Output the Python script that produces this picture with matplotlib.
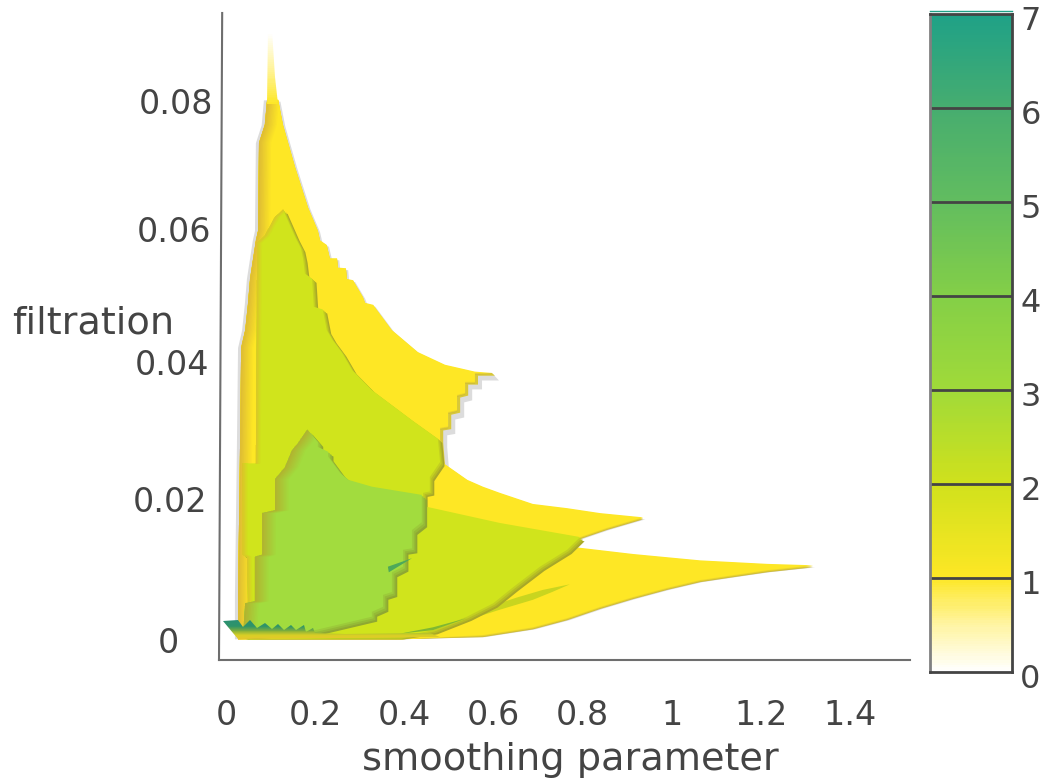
import numpy as np
import matplotlib
matplotlib.use("Agg")
import matplotlib.pyplot as plt
from matplotlib.colors import LinearSegmentedColormap, to_rgb
from matplotlib.patches import Polygon
from matplotlib.transforms import ScaledTranslation

# Outlines of the regions where the Hilbert function reaches each level,
# as (smoothing parameter, filtration) boundaries.
level1_right_s = [0.027, 0.390, 0.576, 0.688, 0.765, 0.839, 0.913, 0.989, 1.063, 1.137, 1.213, 1.316,
                  1.213, 1.063, 0.913, 0.778, 0.794, 0.854, 0.935, 0.839, 0.765, 0.688, 0.614, 0.576,
                  0.541, 0.484, 0.480, 0.480, 0.498, 0.498, 0.518, 0.518, 0.536, 0.536, 0.558, 0.558, 0.596,
                  0.558, 0.491, 0.430, 0.372, 0.330, 0.312, 0.307, 0.285, 0.271, 0.269, 0.251, 0.249, 0.233,
                  0.226, 0.211, 0.206, 0.184, 0.155, 0.128, 0.117]
level1_right_f = [0.0001, 0.0001, 0.0007, 0.0018, 0.0031, 0.0047, 0.0061, 0.0074, 0.0085, 0.0092, 0.0099, 0.0106,
                  0.0108, 0.0113, 0.0122, 0.0132, 0.0146, 0.0159, 0.0174, 0.0180, 0.0187, 0.0193, 0.0209, 0.0218,
                  0.0228, 0.0254, 0.0286, 0.0304, 0.0306, 0.0327, 0.0330, 0.0352, 0.0355, 0.0371, 0.0371, 0.0384, 0.0384,
                  0.0386, 0.0396, 0.0415, 0.0448, 0.0486, 0.0489, 0.0498, 0.0523, 0.0525, 0.0541, 0.0542, 0.0556, 0.0556,
                  0.0576, 0.0583, 0.0598, 0.0634, 0.0697, 0.0763, 0.0802]
level1_left_s = [0.092, 0.087, 0.074, 0.072, 0.067, 0.054, 0.049, 0.043, 0.034, 0.031, 0.027, 0.027]
level1_left_f = [0.0802, 0.0763, 0.0735, 0.0598, 0.0583, 0.0526, 0.0486, 0.0448, 0.0422, 0.0252, 0.0062, 0.0001]

level1_spike_s = [0.092, 0.117, 0.110, 0.103, 0.094]
level1_spike_f = [0.0795, 0.0795, 0.0837, 0.0911, 0.0911]

level2_right_s = [0.049, 0.390, 0.464, 0.540, 0.599, 0.644, 0.704, 0.765, 0.794, 0.614, 0.464, 0.442, 0.442,
                  0.457, 0.457, 0.480, 0.475, 0.417, 0.327, 0.283, 0.260, 0.238, 0.226, 0.217, 0.197, 0.193,
                  0.177, 0.173, 0.168, 0.155, 0.128]
level2_right_f = [0.0001, 0.0004, 0.0014, 0.0033, 0.0052, 0.0075, 0.0104, 0.0128, 0.0146, 0.0166, 0.0187, 0.0190, 0.0209,
                  0.0211, 0.0232, 0.0254, 0.0288, 0.0315, 0.0359, 0.0388, 0.0414, 0.0434, 0.0448, 0.0479, 0.0483, 0.0525,
                  0.0533, 0.0555, 0.0571, 0.0588, 0.0630]
level2_left_s = [0.128, 0.110, 0.087, 0.070, 0.067, 0.038, 0.038, 0.047, 0.049, 0.049]
level2_left_f = [0.0630, 0.0619, 0.0590, 0.0579, 0.0252, 0.0252, 0.0121, 0.0118, 0.0057, 0.0001]

level3_right_s = [0.038, 0.200, 0.327, 0.327, 0.352, 0.352, 0.372, 0.372, 0.397, 0.397, 0.417, 0.417, 0.439, 0.439,
                  0.327, 0.274, 0.256, 0.229, 0.229, 0.206, 0.206, 0.182]
level3_right_f = [0.0004, 0.0014, 0.0033, 0.0040, 0.0047, 0.0064, 0.0068, 0.0096, 0.0104, 0.0128, 0.0130, 0.0156, 0.0167, 0.0206,
                  0.0218, 0.0228, 0.0238, 0.0262, 0.0269, 0.0276, 0.0283, 0.0301]
level3_left_s = [0.182, 0.161, 0.148, 0.132, 0.110, 0.110, 0.081, 0.081, 0.065, 0.065, 0.043, 0.038]
level3_left_f = [0.0301, 0.0281, 0.0271, 0.0246, 0.0229, 0.0184, 0.0180, 0.0121, 0.0118, 0.0055, 0.0052, 0.0004]

# Narrow ridges of a higher level running through the lower sheets.
ridge2_s = [0.771, 0.731, 0.688, 0.614, 0.540, 0.569, 0.651, 0.710]
ridge2_f = [0.0079, 0.0068, 0.0057, 0.0043, 0.0028, 0.0043, 0.0060, 0.0071]
ridge3_s = [0.390, 0.464, 0.540, 0.464]
ridge3_f = [0.0009, 0.0018, 0.0031, 0.0014]
ridge4_s = [0.417, 0.363, 0.365]
ridge4_f = [0.0116, 0.0104, 0.0096]

# Saw-tooth of high values along the bottom edge.
teeth_s = [-0.007, 0.027, 0.038, 0.054, 0.070, 0.087, 0.103, 0.117, 0.130, 0.146, 0.157, 0.175, 0.179,
           0.195, 0.200, 0.267, 0.457, 0.480, 0.027]
teeth_f = [0.0027, 0.0028, 0.0018, 0.0028, 0.0017, 0.0024, 0.0016, 0.0023, 0.0014, 0.0021, 0.0014, 0.0021, 0.0011,
           0.0017, 0.0010, 0.0009, 0.0010, 0.0004, 0.0001]

x_ticks = [0, 0.2, 0.4, 0.6, 0.8, 1, 1.2, 1.4]
x_tick_labels = ["0", "0.2", "0.4", "0.6", "0.8", "1", "1.2", "1.4"]
y_ticks = [0, 0.02, 0.04, 0.06, 0.08]
y_tick_labels = ["0", "0.02", "0.04", "0.06", "0.08"]
cbar_ticks = [0, 1, 2, 3, 4, 5, 6, 7]

# The view is in slight perspective: filtration spacing shrinks towards the top.
y_stops = [-0.10, -0.00284, 0, 0.02, 0.04, 0.06, 0.08, 0.09375, 0.20]
y_heights = [-680, 0, 20, 161, 298, 431, 559, 647, 1330]

scale_colors = [(0.0, "#ffffff"), (0.5 / 7, "#fff4a0"), (1 / 7, "#fde725"), (2 / 7, "#d0e11c"),
                (3 / 7, "#a0da39"), (4 / 7, "#84cf47"), (5 / 7, "#62bd5f"), (6 / 7, "#47ad6f"), (1.0, "#1fa187")]
hilbert_cmap = LinearSegmentedColormap.from_list("hilbert", scale_colors)
teeth_cmap = LinearSegmentedColormap.from_list(
    "teeth", [(0.0, "#e6c62a"), (0.2, "#d8cf25"), (0.45, "#7fae3a"), (0.7, "#2f9468"), (1.0, "#2a8f72")])

LEVEL1 = "#fee725"
LEVEL2 = "#d0e41c"
LEVEL3 = "#a2dc3e"
TEXT = "#444444"
FONT = 24
TITLE_FONT = 27.5


def blend(a, b, t):
    a, b = np.array(to_rgb(a)), np.array(to_rgb(b))
    return tuple(a + (b - a) * t)


def outline(right_s, right_f, left_s, left_f, ds=0.0, df=0.0):
    s = np.concatenate([right_s, left_s]) + ds
    f = np.maximum(np.concatenate([right_f, left_f]) + df, 0.0001)
    return np.column_stack([s, f])


def draw_region(ax, right_s, right_f, left_s, left_f, color, wall, wall_width, z,
                edge_color=None, edge_shift=(0, 0)):
    # Side wall showing on the right and lower edges of the sheet.
    if edge_color is not None:
        for t in (1.0, 0.66, 0.33):
            ax.fill(*outline(right_s, right_f, left_s, left_f,
                             edge_shift[0] * t, edge_shift[1] * t).T,
                    color=blend(color, edge_color, t), lw=0, zorder=z)
    body = outline(right_s, right_f, left_s, left_f)
    ax.fill(*body.T, color=color, lw=0, zorder=z + 0.1)
    # Shaded wall along the left edge, clipped to the sheet.
    clip = Polygon(body, closed=True, transform=ax.transData, fc="none", ec="none")
    ax.add_patch(clip)
    left_s = np.asarray(left_s)
    left_f = np.asarray(left_f)
    for t in np.linspace(1, 0.1, 10):
        band = np.column_stack([np.r_[left_s, left_s[::-1] + t * wall_width],
                                np.r_[left_f, left_f[::-1]]])
        piece = ax.fill(*band.T, color=blend(color, wall, 1 - t), lw=0, zorder=z + 0.2)[0]
        piece.set_clip_path(clip)


def gradient_fill(ax, s, f, cmap, v_low, v_high, z):
    # Vertical colour ramp clipped to one outline.
    f_grid = np.linspace(min(f), max(f), 40)
    s_grid = np.array([min(s), max(s)])
    values = np.linspace(v_low, v_high, 39).reshape(-1, 1)
    mesh = ax.pcolormesh(s_grid, f_grid, values, cmap=cmap, vmin=0, vmax=1,
                         shading="flat", zorder=z, rasterized=True)
    clip = Polygon(np.column_stack([s, f]), closed=True, transform=ax.transData, fc="none", ec="none")
    ax.add_patch(clip)
    mesh.set_clip_path(clip)


fig = plt.figure(figsize=(10.53, 7.84), dpi=100, facecolor="white")
plt.rcParams["font.family"] = ["DejaVu Sans"]
W, H = 1053.0, 784.0
ax = fig.add_axes([219 / W, (H - 660) / H, 691 / W, 647 / H])
ax.set_yscale("function", functions=(lambda v: np.interp(v, y_stops, y_heights),
                                     lambda v: np.interp(v, y_heights, y_stops)))
ax.set_xlim(-0.0157, 1.5336)
ax.set_ylim(-0.00284, 0.09375)

r1s, r1f = np.array(level1_right_s), np.array(level1_right_f)
l1s, l1f = np.array(level1_left_s), np.array(level1_left_f)

# Soft grey shadow around the first sheet.
GREY = "#dcdcdc"
ax.fill(*outline(r1s, r1f, l1s, l1f, 0.005, -0.0003).T, color=GREY, lw=0, zorder=1)
ax.fill(*outline(r1s, r1f, l1s, l1f, -0.007, -0.0001).T, color=GREY, lw=0, zorder=1)
stair_s, stair_f = r1s[25:37], r1f[25:37]
ax.fill(np.r_[stair_s + 0.016, stair_s[::-1]], np.r_[stair_f - 0.0011, stair_f[::-1]],
        color=GREY, lw=0, zorder=1)
ax.fill(np.r_[stair_s + 0.007, stair_s[::-1]], np.r_[stair_f - 0.0004, stair_f[::-1]],
        color="#d8c838", lw=0, zorder=1.5)

draw_region(ax, r1s, r1f, l1s, l1f, LEVEL1, "#dcb935", 0.030, 2,
            edge_color="#cdbb38", edge_shift=(0.0, -0.0003))
gradient_fill(ax, level1_spike_s, level1_spike_f, hilbert_cmap, 1 / 7, 0.0, 2.5)
ax.fill(ridge2_s, ridge2_f, color="#c9d51f", lw=0, zorder=3)

draw_region(ax, level2_right_s, level2_right_f, level2_left_s, level2_left_f, LEVEL2, "#dcc52a", 0.012, 4,
            edge_color="#a8a828", edge_shift=(0.010, -0.0006))
ax.fill(ridge3_s, ridge3_f, color="#7fb832", lw=0, zorder=5)

draw_region(ax, level3_right_s, level3_right_f, level3_left_s, level3_left_f, LEVEL3, "#b3b02e", 0.034, 6,
            edge_color="#8fa832", edge_shift=(0.012, -0.0007))
ax.fill(ridge4_s, ridge4_f, color="#4da95a", lw=0, zorder=7)

gradient_fill(ax, teeth_s, teeth_f, teeth_cmap, 0.0, 1.0, 8)

# Axis frame: only the left and bottom lines are visible, the left one leaning with the view.
for side in ("top", "right", "left", "bottom"):
    ax.spines[side].set_visible(False)
ax.plot([0, 0.0046], [0, 1], transform=ax.transAxes, color="#6e6e6e", lw=1.5, clip_on=False, zorder=9)
ax.plot([0, 1], [0, 0], transform=ax.transAxes, color="#6e6e6e", lw=1.5, clip_on=False, zorder=9)

ax.set_xticks(x_ticks, x_tick_labels, fontsize=FONT, color=TEXT)
ax.set_yticks(y_ticks, y_tick_labels, fontsize=FONT, color=TEXT)
ax.minorticks_off()
ax.tick_params(axis="both", length=0, pad=0)
ax.tick_params(axis="x", pad=28)
y_label_centres = [168, 170, 172, 174, 176]
for tick, centre in zip(ax.yaxis.get_major_ticks(), y_label_centres):
    tick.label1.set_ha("center")
    tick.label1.set_x((centre - 219) / 691)

ax.set_xlabel("smoothing parameter", fontsize=TITLE_FONT, color=TEXT)
ax.xaxis.set_label_coords(351 / 691, -100 / 647)
ax.xaxis.label.set_va("center")
ax.set_ylabel("filtration", fontsize=TITLE_FONT, color=TEXT, rotation=0, ha="center", va="center")
ax.yaxis.set_label_coords((93 - 219) / 691, (660 - 323) / 647)

# Colour bar with a dark line at every whole level.
cax = fig.add_axes([930 / W, (H - 672) / H, 82 / W, 658 / H])
levels = np.linspace(0, 7, 281)
cax.pcolormesh([0, 1], levels, ((levels[:-1] + levels[1:]) / 2).reshape(-1, 1),
               cmap=hilbert_cmap, vmin=0, vmax=7, shading="flat", rasterized=True)
cax.set_xlim(0, 1)
cax.set_ylim(0, 7)
cax.set_xticks([])
cax.hlines(cbar_ticks[1:-1], 0, 1, color=TEXT, lw=2)
for side in cax.spines.values():
    side.set_edgecolor(TEXT)
    side.set_linewidth(2)
cax.spines["left"].set_edgecolor("#808080")
cax.plot([0, 1], [1.004, 1.004], transform=cax.transAxes, color="#1fa187", lw=1, clip_on=False)
cax.yaxis.tick_right()
cax.set_yticks(cbar_ticks, [str(v) for v in cbar_ticks], fontsize=FONT - 1, color=TEXT)
cax.tick_params(axis="y", length=0, pad=6)
shift = ScaledTranslation(0, -3 / 72, fig.dpi_scale_trans)
for label in cax.get_yticklabels():
    label.set_transform(label.get_transform() + shift)

fig.savefig("out.png", dpi=100, facecolor="white")
